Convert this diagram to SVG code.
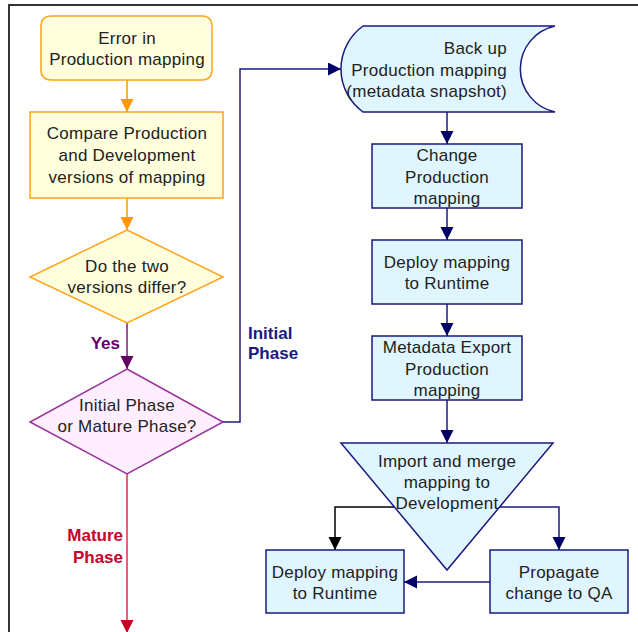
<svg xmlns="http://www.w3.org/2000/svg" width="638" height="632" viewBox="0 0 638 632">
  <style>
    text { font-family: "Liberation Sans", Arial, sans-serif; font-size: 17px; fill: #222; letter-spacing: 0.25px; }
    .c { text-anchor: middle; }
    .lbl { font-weight: bold; letter-spacing: 0; }
    .yel { fill: #FFFFDD; stroke: #FFA31A; stroke-width: 1.5; }
    .pnk { fill: #FFEEFF; stroke: #993399; stroke-width: 1.5; }
    .blu { fill: #DFF5FF; stroke: #1A1A80; stroke-width: 1.5; }
    .ln { fill: none; stroke-width: 1.5; }
  </style>
  <defs>
    <marker id="ahOrange" markerUnits="userSpaceOnUse" markerWidth="14" markerHeight="14" refX="13" refY="6.5" orient="auto">
      <path d="M0,0 L13,6.5 L0,13 Z" fill="#FF9900"/>
    </marker>
    <marker id="ahPurple" markerUnits="userSpaceOnUse" markerWidth="14" markerHeight="14" refX="13" refY="6.5" orient="auto">
      <path d="M0,0 L13,6.5 L0,13 Z" fill="#660066"/>
    </marker>
    <marker id="ahNavy" markerUnits="userSpaceOnUse" markerWidth="14" markerHeight="14" refX="13" refY="6.5" orient="auto">
      <path d="M0,0 L13,6.5 L0,13 Z" fill="#000066"/>
    </marker>
    <marker id="ahRed" markerUnits="userSpaceOnUse" markerWidth="14" markerHeight="14" refX="13" refY="6.5" orient="auto">
      <path d="M0,0 L13,6.5 L0,13 Z" fill="#C8002A"/>
    </marker>
    <marker id="ahBlack" markerUnits="userSpaceOnUse" markerWidth="14" markerHeight="14" refX="13" refY="6.5" orient="auto">
      <path d="M0,0 L13,6.5 L0,13 Z" fill="#000000"/>
    </marker>
  </defs>

  <rect width="638" height="632" fill="#FFFFFF"/>
  <!-- page frame -->
  <path d="M9,632 V5 H638" fill="none" stroke="#333333" stroke-width="2"/>

  <g id="connectors">
    <path class="ln" stroke="#FF9900" d="M127,80 V112" marker-end="url(#ahOrange)"/>
    <path class="ln" stroke="#FF9900" d="M127,198 V230" marker-end="url(#ahOrange)"/>
    <path class="ln" stroke="#7A1A7A" d="M127,323 V369" marker-end="url(#ahPurple)"/>
    <path class="ln" stroke="#D83050" d="M127,474 V633" marker-end="url(#ahRed)"/>
    <path class="ln" stroke="#1A1A80" d="M223,422 H240 V69 H341" marker-end="url(#ahNavy)"/>
    <path class="ln" stroke="#1A1A80" d="M447,112 V144" marker-end="url(#ahNavy)"/>
    <path class="ln" stroke="#1A1A80" d="M447,208 V240" marker-end="url(#ahNavy)"/>
    <path class="ln" stroke="#1A1A80" d="M447,304 V336" marker-end="url(#ahNavy)"/>
    <path class="ln" stroke="#1A1A80" d="M447,400 V443" marker-end="url(#ahNavy)"/>
    <path class="ln" stroke="#000000" d="M394,507 H335 V550" marker-end="url(#ahBlack)"/>
    <path class="ln" stroke="#1A1A80" d="M500,507 H559 V550" marker-end="url(#ahNavy)"/>
    <path class="ln" stroke="#1A1A80" d="M490,582 H404" marker-end="url(#ahNavy)"/>
    <text class="lbl" x="120" y="349" text-anchor="end" style="fill:#660066">Yes</text>
    <text class="lbl" x="248" y="339" style="fill:#1A1A80">Initial</text>
    <text class="lbl" x="248" y="359" style="fill:#1A1A80">Phase</text>
    <text class="lbl" x="123" y="541" text-anchor="end" style="fill:#C8002A">Mature</text>
    <text class="lbl" x="123" y="563" text-anchor="end" style="fill:#C8002A">Phase</text>
  </g>

  <g id="error">
    <rect class="yel" x="41" y="16" width="171" height="64" rx="9"/>
    <text class="c" x="127" y="44">Error in</text>
    <text class="c" x="127" y="65">Production mapping</text>
  </g>

  <g id="compare">
    <rect class="yel" x="30" y="112" width="193" height="86"/>
    <text class="c" x="127" y="139">Compare Production</text>
    <text class="c" x="127" y="161">and Development</text>
    <text class="c" x="127" y="183">versions of mapping</text>
  </g>

  <g id="differ">
    <polygon class="yel" points="127,230 223,277 127,323 30,277"/>
    <text class="c" x="127" y="272">Do the two</text>
    <text class="c" x="127" y="293">versions differ?</text>
  </g>

  <g id="phase">
    <polygon class="pnk" points="127,369 223,422 127,474 30,422"/>
    <text class="c" x="127" y="411">Initial Phase</text>
    <text class="c" x="127" y="432">or Mature Phase?</text>
  </g>

  <g id="backup">
    <path class="blu" d="M363,26 H555 A44,44 0 0 0 555,112 H363 A53,53 0 0 1 363,26 Z"/>
    <text x="507" y="54" text-anchor="end">Back up</text>
    <text x="507" y="76" text-anchor="end">Production mapping</text>
    <text x="507" y="97" text-anchor="end">(metadata snapshot)</text>
  </g>

  <g id="change">
    <rect class="blu" x="372" y="144" width="150" height="64"/>
    <text class="c" x="447" y="161">Change</text>
    <text class="c" x="447" y="183">Production</text>
    <text class="c" x="447" y="204">mapping</text>
  </g>

  <g id="deploy1">
    <rect class="blu" x="372" y="240" width="150" height="64"/>
    <text class="c" x="447" y="268">Deploy mapping</text>
    <text class="c" x="447" y="289">to Runtime</text>
  </g>

  <g id="export">
    <rect class="blu" x="372" y="336" width="150" height="64"/>
    <text class="c" x="447" y="353">Metadata Export</text>
    <text class="c" x="447" y="375">Production</text>
    <text class="c" x="447" y="396">mapping</text>
  </g>

  <g id="import">
    <polygon class="blu" points="341,443 553,443 447,570"/>
    <text class="c" x="447" y="467">Import and merge</text>
    <text class="c" x="447" y="488">mapping to</text>
    <text class="c" x="447" y="509">Development</text>
  </g>

  <g id="deploy2">
    <rect class="blu" x="266" y="550" width="138" height="63"/>
    <text class="c" x="335" y="578">Deploy mapping</text>
    <text class="c" x="335" y="599">to Runtime</text>
  </g>

  <g id="propagate">
    <rect class="blu" x="490" y="550" width="138" height="63"/>
    <text class="c" x="559" y="578">Propagate</text>
    <text class="c" x="559" y="599">change to QA</text>
  </g>
</svg>
